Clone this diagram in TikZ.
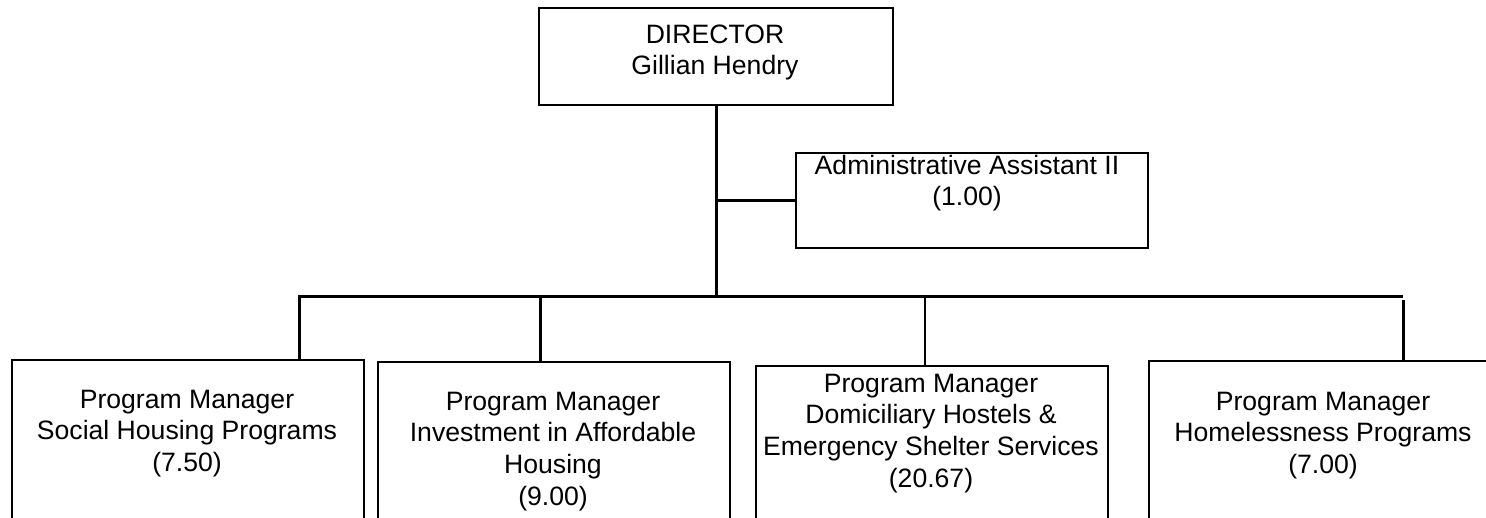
\documentclass[tikz,border=0pt]{standalone}
\usepackage{fontspec}
\setmainfont{Liberation Sans}
% centred multi-line text whose baseline is that of its first line
\newcommand\stacklines[1]{\vtop{\halign{\hfil##\hfil\cr#1\crcr}}}
\begin{document}
\begin{tikzpicture}[x=1pt,y=-1pt,
  box/.style={draw=black,line width=2pt,rectangle,anchor=north west,inner sep=0pt,fill=white},
  label/.style={anchor=base,inner sep=0pt,font=\fontsize{26.6}{31.8}\selectfont},
  link/.style={draw=black,line width=3pt},
  thinlink/.style={draw=black,line width=2pt}]
\useasboundingbox (0,0) rectangle (1486,517);
\clip (0,0) rectangle (1486,517);

% positions
\node[box,minimum width=354pt,minimum height=97pt] (dir) at (538,7) {};
\node[box,minimum width=352pt,minimum height=95pt] (admin) at (795,152) {};
\node[box,minimum width=352pt,minimum height=200pt] (sh) at (11,359) {};
\node[box,minimum width=352pt,minimum height=200pt] (ia) at (377,361) {};
\node[box,minimum width=352pt,minimum height=200pt] (dh) at (755,365) {};
\node[box,minimum width=352pt,minimum height=200pt] (hp) at (1148,360) {};

% bus and tee points
\coordinate (busL) at (299,296);
\coordinate (busR) at (1403,296);
\coordinate (t2) at (540,296);
\coordinate (t3) at (925,296);
\coordinate (t4) at (1403,300);

% connectors
\draw[link] (dir.south) -- (dir.south |- busL);
\draw[link] (admin.west) -- (admin.west -| dir.south);
\draw[link,line join=miter] (busL |- sh.north) -- (busL) -- (busR);
\draw[link] (t2) -- (t2 |- ia.north);
\draw[thinlink] (t3) -- (t3 |- dh.north);
\draw[link] (t4) -- (t4 |- hp.north);

% texts
\node[label] (dirt) at (715,43) {\stacklines{DIRECTOR\cr Gillian Hendry}};
\node[label] (admt) at (967,174) {\stacklines{Administrative Assistant II\cr (1.00)}};
\node[label] (sht) at (187,408) {\stacklines{Program Manager\cr Social Housing Programs\cr (7.50)}};
\node[label] (iat) at (553,410) {\stacklines{Program Manager\cr Investment in Affordable\cr Housing\cr (9.00)}};
\node[label] (dht) at (931,392) {\stacklines{Program Manager\cr Domiciliary Hostels \&\cr Emergency Shelter Services\cr (20.67)}};
\node[label] (hpt) at (1323,410) {\stacklines{Program Manager\cr Homelessness Programs\cr (7.00)}};
\end{tikzpicture}
\end{document}
